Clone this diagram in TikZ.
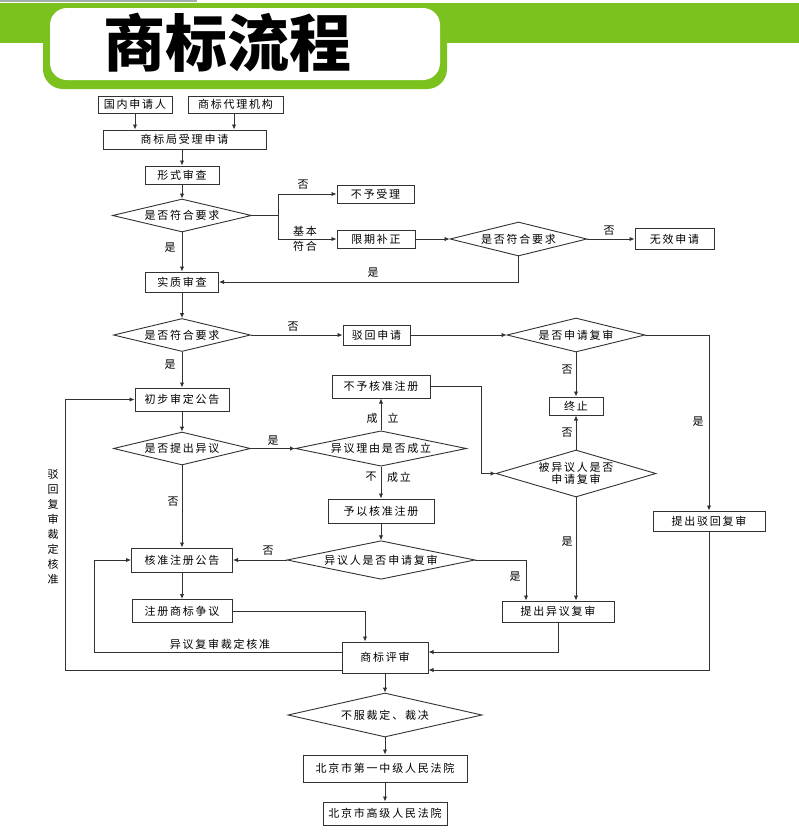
\documentclass[tikz,border=0pt]{standalone}
\usepackage{fontspec}
\setmainfont{Noto Sans CJK SC}[LetterSpace=16]
\newfontfamily\titlefont{Noto Sans CJK SC}
\usetikzlibrary{shapes.geometric,arrows.meta}
\definecolor{hgreen}{RGB}{124,194,30}
\definecolor{hgrey}{RGB}{160,176,168}
\definecolor{linec}{RGB}{50,50,50}
\newcommand\fs{\fontsize{11}{12}\selectfont}
\begin{document}
\begin{tikzpicture}[x=1pt,y=-1pt,
  box/.style={draw=linec, line width=1pt, fill=white, inner sep=0pt, font=\fs},
  dia/.style={diamond, draw=linec, line width=0.9pt, fill=white, inner sep=0pt, aspect=4, font=\fs, align=center},
  line/.style={draw=linec, line width=0.9pt},
  arr/.style={line, -{Latex[length=5pt,width=4.5pt]}},
  lab/.style={inner sep=0pt, font=\fs}]
\useasboundingbox (0,0) rectangle (799,836);
\fill[white] (0,0) rectangle (799,836);
% header
\fill[hgrey] (0,0) rectangle (197,2);
\fill[hgreen] (0,2.5) rectangle (799,43);
\fill[hgreen] (43,4) [rounded corners=20pt] -- (43,89) -- (447,89) -- (447,4) [sharp corners] -- cycle;
\fill[white, rounded corners=17pt] (50,8) rectangle (440,80);
\node[inner sep=0pt, font=\titlefont\bfseries\fontsize{62}{64}\selectfont] (title) at (227,43) {商标流程};
% nodes
\node[box, minimum width=74, minimum height=17] (a1) at (135,104.5) {国内申请人};
\node[box, minimum width=95, minimum height=17] (a2) at (235.5,104.5) {商标代理机构};
\node[box, minimum width=163, minimum height=19] (b) at (184.5,139.5) {商标局受理申请};
\node[box, minimum width=74, minimum height=18] (c) at (182,175) {形式审查};
\node[dia, minimum width=139, minimum height=33] (d1) at (182,215.5) {是否符合要求};
\node[box, minimum width=77, minimum height=18] (e1) at (375.5,194) {不予受理};
\node[box, minimum width=78, minimum height=18] (e2) at (376,239) {限期补正};
\node[dia, minimum width=137, minimum height=34] (d2) at (518.5,239) {是否符合要求};
\node[box, minimum width=79, minimum height=21] (e3) at (674.5,239) {无效申请};
\node[box, minimum width=73, minimum height=20] (f) at (182,282) {实质审查};
\node[dia, minimum width=137, minimum height=33] (d3) at (182,335) {是否符合要求};
\node[box, minimum width=67, minimum height=20] (g) at (376.5,335) {驳回申请};
\node[dia, minimum width=138, minimum height=34] (d4) at (576,335) {是否申请复审};
\node[box, minimum width=54, minimum height=18] (h) at (576,406) {终止};
\node[box, minimum width=94, minimum height=23] (i) at (182,399.5) {初步审定公告};
\node[box, minimum width=98, minimum height=23] (j) at (381,386.5) {不予核准注册};
\node[dia, minimum width=137, minimum height=33] (d3b) at (182,448.5) {是否提出异议};
\node[dia, minimum width=171, minimum height=33] (d5) at (381,448.5) {异议理由是否成立};
\node[dia, minimum width=160, minimum height=47, aspect=3.6] (d6) at (576,473.5) {被异议人是否\\申请复审};
\node[box, minimum width=106, minimum height=24] (k) at (381,511) {予以核准注册};
\node[box, minimum width=112, minimum height=20] (l) at (709,521) {提出驳回复审};
\node[dia, minimum width=188, minimum height=33] (d7) at (381,560) {异议人是否申请复审};
\node[box, minimum width=101, minimum height=24] (m) at (182,560) {核准注册公告};
\node[box, minimum width=100, minimum height=23] (n) at (182,611) {注册商标争议};
\node[box, minimum width=112, minimum height=21] (o) at (558,611.5) {提出异议复审};
\node[box, minimum width=86, minimum height=31] (p) at (385,657.5) {商标评审};
\node[dia, minimum width=194, minimum height=44] (d8) at (385,715) {不服裁定、裁决};
\node[box, minimum width=164, minimum height=27] (q) at (385,768.5) {北京市第一中级人民法院};
\node[box, minimum width=124, minimum height=23] (r) at (385,813.5) {北京市高级人民法院};
% helper coordinates
\coordinate (br1) at (278,215.5);
\coordinate (t1) at (481,0);
\coordinate (t2) at (526,0);
\coordinate (t3) at (365,0);
\coordinate (t4) at (234,0);
\coordinate (y652) at (0,652);
\coordinate (y670) at (0,670);
\coordinate (x94) at (94,0);
\coordinate (x65) at (65,0);
% connectors
\draw[arr] (a1.south) -- (a1.south |- b.north);
\draw[arr] (t4 |- a2.south) -- (t4 |- b.north);
\draw[arr] (c.north |- b.south) -- (c.north);
\draw[arr] (c) -- (d1);
\draw[line] (d1.east) -- (br1);
\draw[arr] (br1) |- (e1.west);
\draw[arr] (br1) |- (e2.west);
\draw[arr] (e2) -- (d2);
\draw[arr] (d2) -- (e3);
\draw[arr] (d2.south) |- (f.east);
\draw[arr] (d1) -- (f);
\draw[arr] (f) -- (d3);
\draw[arr] (d3) -- (g);
\draw[arr] (g) -- (d4);
\draw[arr] (d4) -- (h);
\draw[arr] (d4.east) -| (l.north);
\draw[arr] (d3) -- (i);
\draw[arr] (i) -- (d3b);
\draw[arr] (d3b) -- (d5);
\draw[arr] (d5) -- (j);
\draw[arr] (d5) -- (k);
\draw[arr] (j.east) -- (j.east -| t1) -- (t1 |- d6.west) -- (d6.west);
\draw[arr] (d6) -- (h);
\draw[arr] (d6.south) -- (d6.south |- o.north);
\draw[arr] (k) -- (d7);
\draw[arr] (d7.east) -| (t2 |- o.north);
\draw[arr] (d7) -- (m);
\draw[arr] (d3b) -- (m);
\draw[arr] (m) -- (n);
\draw[arr] (n.east) -| (t3 |- p.north);
\draw[arr] (o.south) |- (p.east |- y652);
\draw[arr] (l.south) |- (p.east |- y670);
\draw[arr] (p.west |- y652) -- (x94 |- y652) -- (x94 |- m.west) -- (m.west);
\draw[arr] (p.west |- y670) -- (x65 |- y670) -- (x65 |- i.west) -- (i.west);
\draw[arr] (p) -- (d8);
\draw[arr] (d8) -- (q);
\draw[arr] (q) -- (r);
% labels
\node[lab] (l1) at (303,185) {否};
\node[lab] (l2) at (305,231) {基本};
\node[lab] (l3) at (305,246) {符合};
\node[lab] (l4) at (609,231) {否};
\node[lab] (l5) at (373,273) {是};
\node[lab] (l6) at (170,248) {是};
\node[lab] (l7) at (293,327) {否};
\node[lab] (l8) at (567,370) {否};
\node[lab] (l9) at (698,422) {是};
\node[lab] (l10) at (170,365) {是};
\node[lab] (l11) at (273,441) {是};
\node[lab] (l12) at (372,418) {成};
\node[lab] (l13) at (393,418) {立};
\node[lab] (l14) at (371,477) {不};
\node[lab] (l15) at (399,477) {成立};
\node[lab] (l16) at (567,433) {否};
\node[lab] (l17) at (567,542) {是};
\node[lab] (l18) at (515,577) {是};
\node[lab] (l19) at (268,551) {否};
\node[lab] (l20) at (173,502) {否};
\node[lab] (l21) at (220,644) {异议复审裁定核准};
\node[lab, align=center, font=\fontsize{11}{15}\selectfont] (l22) at (53,527) {驳\\回\\复\\审\\裁\\定\\核\\准};
\end{tikzpicture}
\end{document}
